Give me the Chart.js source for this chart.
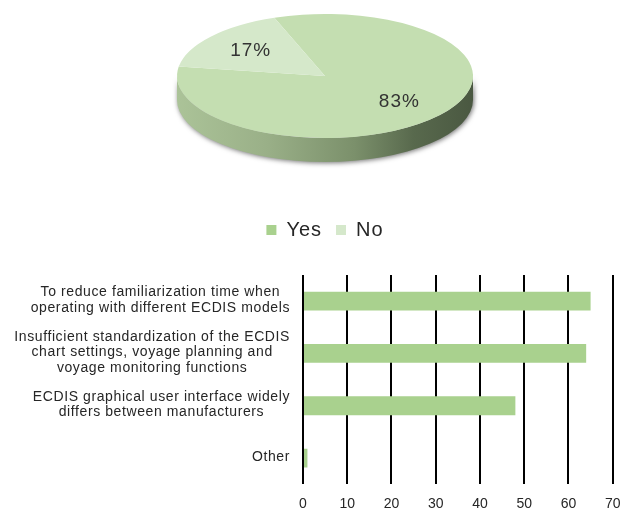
<!DOCTYPE html>
<html>
<head>
<meta charset="utf-8">
<title>ECDIS survey</title>
<script src="https://cdn.jsdelivr.net/npm/chart.js@4/dist/chart.umd.min.js"></script>
<style>
  html, body { margin: 0; padding: 0; background: #ffffff; }
  #page { position: relative; width: 632px; height: 511px; overflow: hidden; background: #ffffff; }
  #pieBox { position: absolute; left: 0; top: -54px; width: 632px; height: 304px; }
  #barBox { position: absolute; left: 0; top: 262px; width: 632px; height: 262px; }
</style>
</head>
<body>
<div id="page">
  <div id="pieBox"><canvas id="pieChart"></canvas></div>
  <div id="barBox"><canvas id="barChart"></canvas></div>
</div>
<script>
// Pie: share of answers
const pieLabels = ['Yes', 'No'];
const pieShares = [83, 17];

// Bars: reasons given (multi-line category labels)
const reasonLabels = [
  ['To reduce familiarization time when', 'operating with different ECDIS models'],
  ['Insufficient standardization of the ECDIS', 'chart settings, voyage planning and', 'voyage monitoring functions'],
  ['ECDIS graphical user interface widely', 'differs between manufacturers'],
  ['Other']
];
const reasonValues = [65, 64, 48, 1];

// Value axis range
const axisMin = 0;
const axisMax = 70;
const axisStep = 10;

const FONT = '"Liberation Sans", Arial, Helvetica, sans-serif';
const TEXT = '#262626';
const faceColors = ['#c4deb1', '#d5e8ca'];
const swatchColors = ['#a9d18e', '#d5e8cb'];
const barColor = '#a9d18e';

const TILT = 0.419;   // vertical squash of the pie disc
const DEPTH = 24;     // thickness of the disc edge

// Wider letter spacing for canvas text of a chart
function spacing(px) {
  return {
    id: 'spacing',
    beforeLayout(chart) { chart.ctx.letterSpacing = px; },
    beforeDraw(chart) { chart.ctx.letterSpacing = px; }
  };
}

// Draws the pie as a tilted disc with a shaded edge, plus percentage labels
const tiltedDisc = {
  id: 'tiltedDisc',
  beforeDatasetsDraw(chart) {
    const ctx = chart.ctx;
    const arc = chart.getDatasetMeta(0).data[0];
    const { x, y, outerRadius: r } = arc.getProps(['x', 'y', 'outerRadius'], true);
    // edge of the disc (only the front half is visible)
    ctx.save();
    const g = ctx.createLinearGradient(x - r, 0, x + r, 0);
    g.addColorStop(0, '#abc398');
    g.addColorStop(0.3, '#9ab088');
    g.addColorStop(0.6, '#7b906b');
    g.addColorStop(0.8, '#58694d');
    g.addColorStop(1, '#4a5841');
    ctx.shadowColor = 'rgba(0,0,0,0.55)';
    ctx.shadowBlur = 5;
    ctx.shadowOffsetX = 1;
    ctx.shadowOffsetY = 1;
    ctx.beginPath();
    ctx.ellipse(x, y, r, r * TILT, 0, 0, Math.PI);
    ctx.ellipse(x, y + DEPTH, r, r * TILT, 0, Math.PI, 0, true);
    ctx.closePath();
    ctx.fillStyle = g;
    ctx.fill();
    ctx.restore();
    // squash the slices into the top face
    ctx.save();
    ctx.translate(x, y);
    ctx.scale(1, TILT);
    ctx.translate(-x, -y);
  },
  afterDatasetsDraw(chart) {
    const ctx = chart.ctx;
    ctx.restore();
    const meta = chart.getDatasetMeta(0);
    ctx.save();
    ctx.font = '19px ' + FONT;
    ctx.letterSpacing = '1px';
    ctx.fillStyle = '#333333';
    ctx.textAlign = 'center';
    ctx.textBaseline = 'middle';
    meta.data.forEach((el, i) => {
      const p = el.getProps(['x', 'y', 'startAngle', 'endAngle', 'outerRadius'], true);
      const mid = (p.startAngle + p.endAngle) / 2;
      const rr = p.outerRadius * 0.65;
      ctx.fillText(pieShares[i] + '%', p.x + Math.cos(mid) * rr, p.y + Math.sin(mid) * rr * TILT);
    });
    ctx.restore();
  }
};

new Chart(document.getElementById('pieChart'), {
  type: 'pie',
  data: {
    labels: pieLabels,
    datasets: [{
      data: pieShares,
      backgroundColor: faceColors,
      borderWidth: 0,
      clip: false
    }]
  },
  options: {
    responsive: true,
    maintainAspectRatio: false,
    animation: false,
    events: [],
    rotation: -20,
    radius: 148,
    layout: { padding: { left: 18, right: 0, top: 0, bottom: 0 } },
    plugins: {
      tooltip: { enabled: false },
      legend: {
        position: 'bottom',
        labels: {
          boxWidth: 10,
          boxHeight: 10,
          padding: 14,
          color: TEXT,
          font: { family: FONT, size: 20 },
          generateLabels() {
            return pieLabels.map((text, i) => ({
              text,
              fillStyle: swatchColors[i],
              strokeStyle: swatchColors[i],
              lineWidth: 0,
              hidden: false,
              index: i,
              fontColor: TEXT
            }));
          }
        }
      }
    }
  },
  plugins: [spacing('1px'), tiltedDisc]
});

// Category labels: centred lines, block aligned to the plot's left edge
const blockLabels = {
  id: 'blockLabels',
  afterDraw(chart) {
    const ctx = chart.ctx;
    const scale = chart.scales.y;
    const right = chart.chartArea.left - 13;
    const lineH = 15.7;
    ctx.save();
    ctx.font = '14px ' + FONT;
    ctx.letterSpacing = '0.6px';
    ctx.fillStyle = TEXT;
    ctx.textAlign = 'center';
    ctx.textBaseline = 'middle';
    reasonLabels.forEach((lines, i) => {
      const yc = scale.getPixelForTick(i) - 1;
      const w = Math.max(...lines.map(l => ctx.measureText(l).width));
      const cx = right - w / 2;
      lines.forEach((line, j) => {
        ctx.fillText(line, cx, yc + (j - (lines.length - 1) / 2) * lineH);
      });
    });
    ctx.restore();
  }
};

new Chart(document.getElementById('barChart'), {
  type: 'bar',
  data: {
    labels: reasonLabels,
    datasets: [{
      data: reasonValues,
      backgroundColor: barColor,
      borderWidth: 0,
      barPercentage: 0.36,
      categoryPercentage: 1
    }]
  },
  options: {
    indexAxis: 'y',
    responsive: true,
    maintainAspectRatio: false,
    animation: false,
    events: [],
    layout: { padding: { top: 13, right: 14, left: 0, bottom: 0 } },
    plugins: { legend: { display: false }, tooltip: { enabled: false } },
    scales: {
      x: {
        min: axisMin,
        max: axisMax,
        ticks: { stepSize: axisStep, padding: 11.5, color: TEXT, font: { family: FONT, size: 14 } },
        grid: { color: '#000000', lineWidth: 2, drawTicks: false },
        border: { display: false }
      },
      y: {
        grid: { display: false },
        border: { display: false },
        ticks: { display: false },
        afterFit(s) { s.width = 303; }
      }
    }
  },
  plugins: [blockLabels]
});
</script>
</body>
</html>
